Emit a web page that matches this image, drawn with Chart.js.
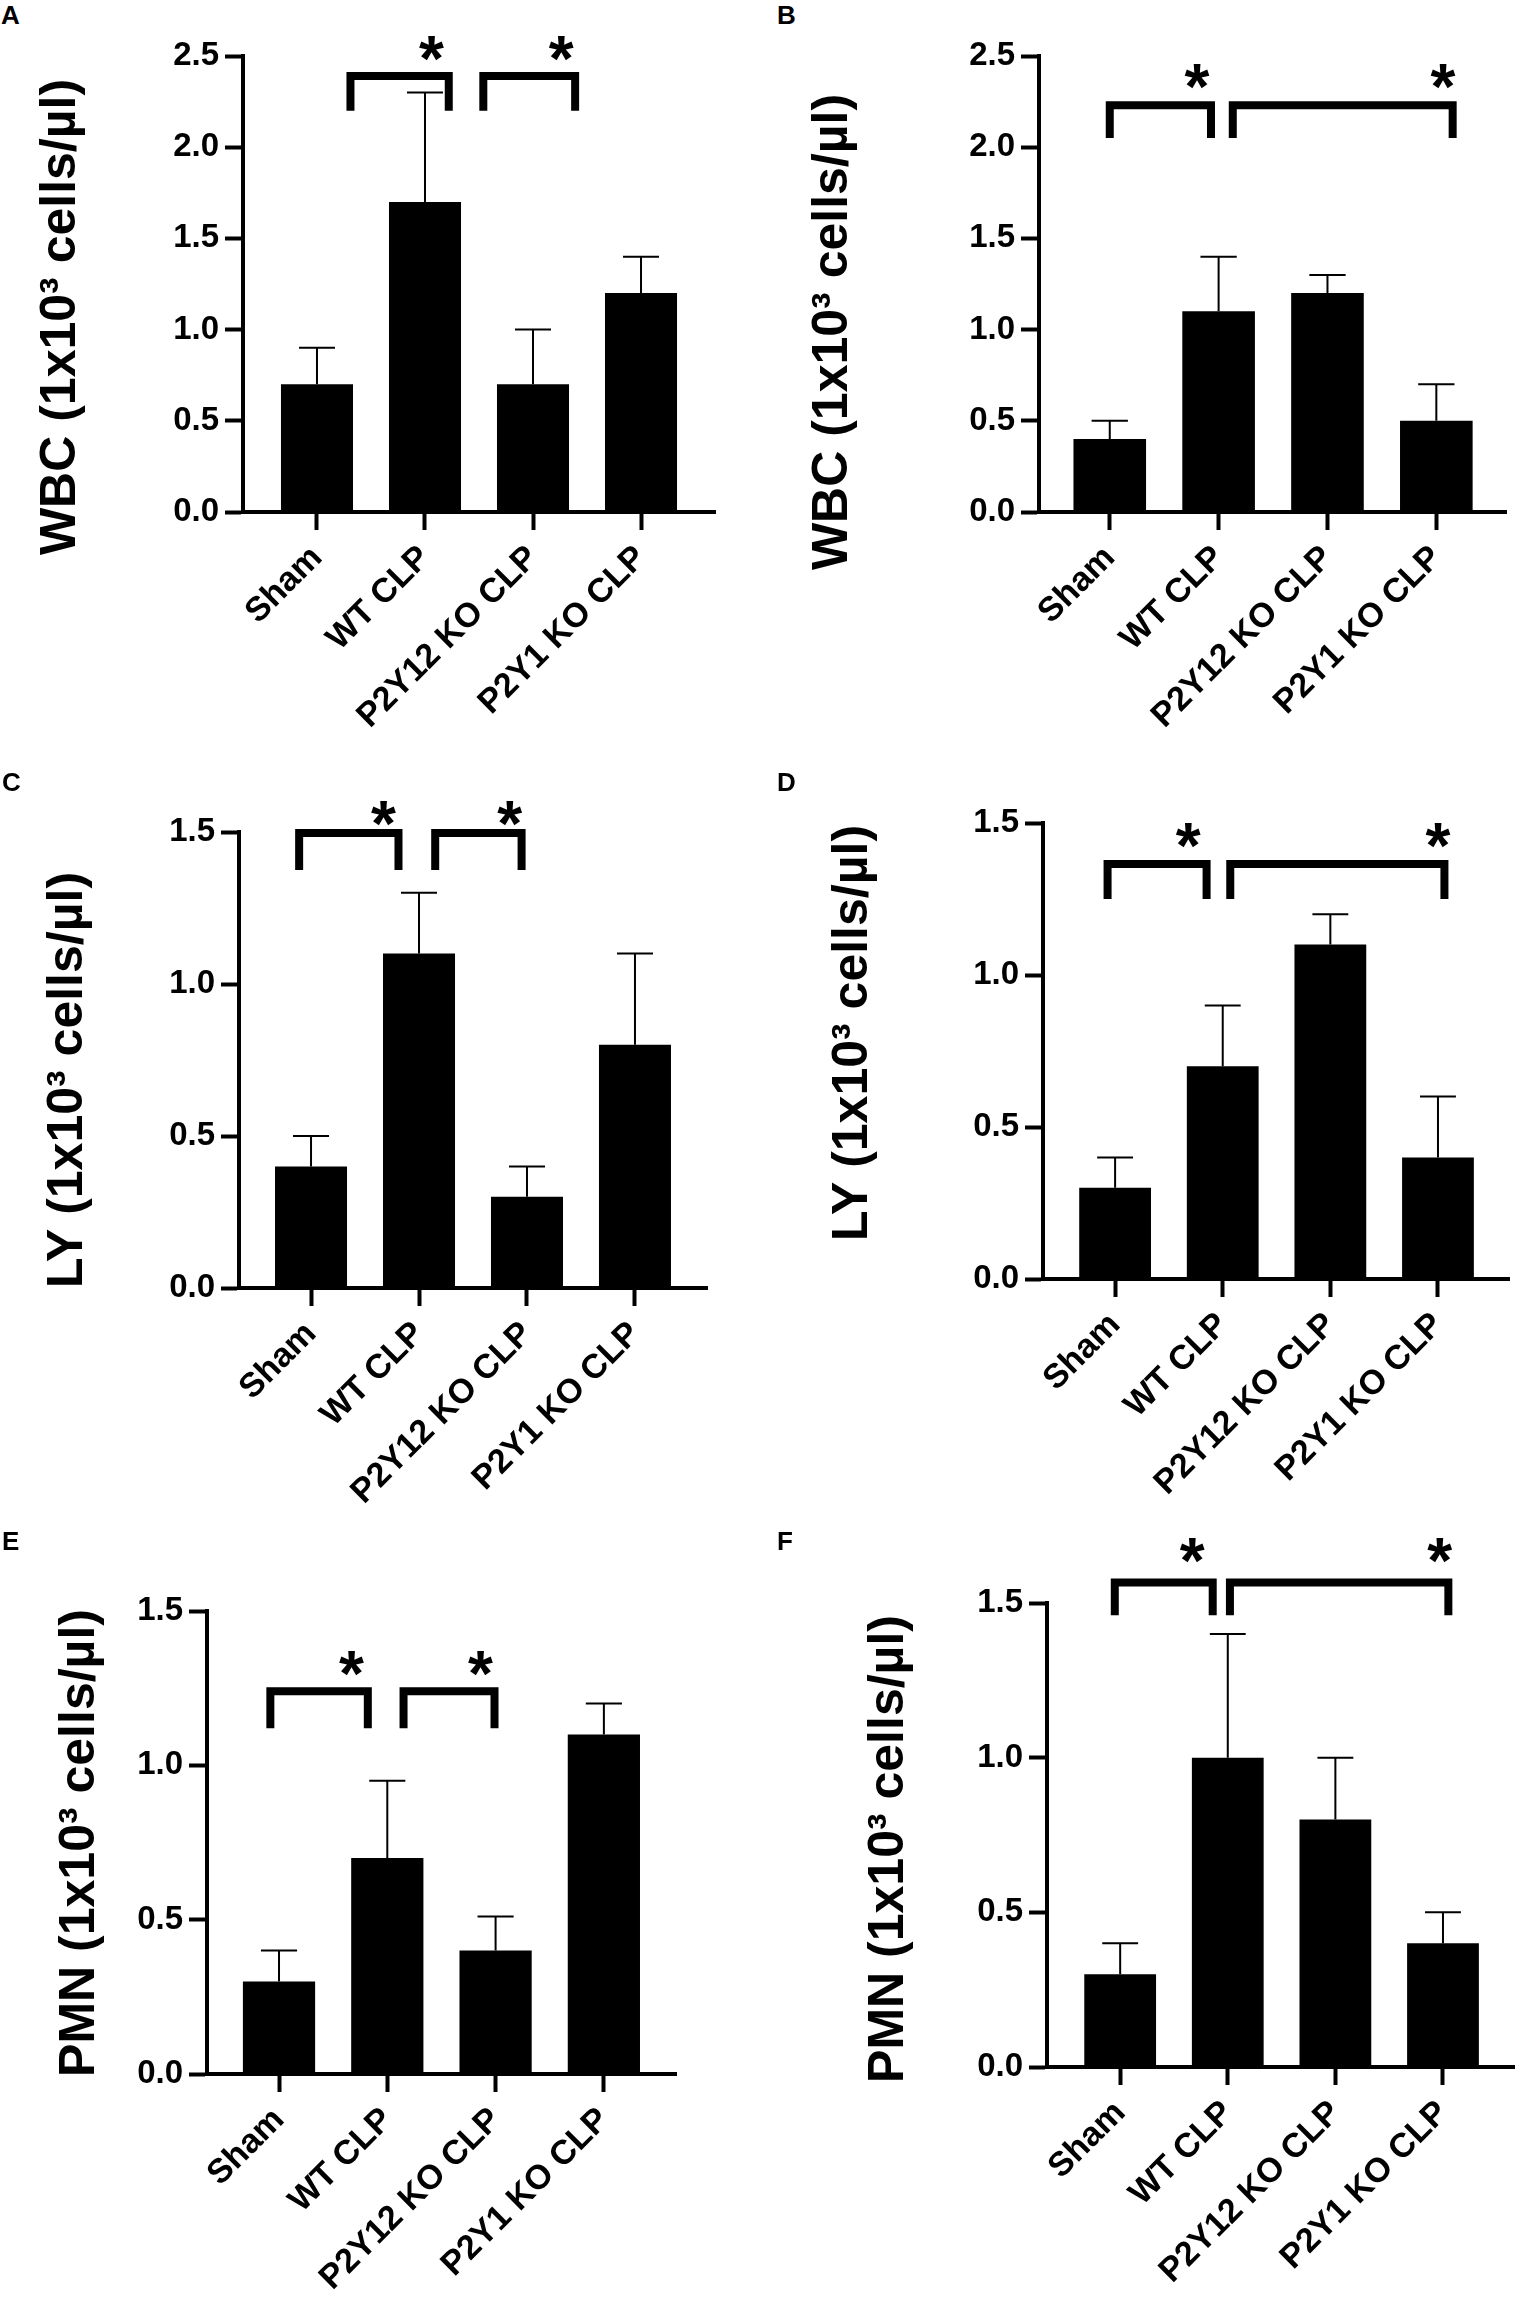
<!DOCTYPE html>
<html>
<head>
<meta charset="utf-8">
<script src="https://cdn.jsdelivr.net/npm/chart.js@4.4.1/dist/chart.umd.min.js"></script>
<style>
  body { margin: 0; background: #fff; }
  #page { position: relative; width: 1521px; height: 2305px; overflow: hidden; }
  #page canvas { position: absolute; }
  .tag { position: absolute; font: bold 26px "Liberation Sans", Arial, sans-serif; line-height: 26px; color: #000; }
</style>
</head>
<body>
<div id="page"></div>
<script>
const categories = ["Sham", "WT CLP", "P2Y12 KO CLP", "P2Y1 KO CLP"];

// means and upper SEM
const wbcLeft = [0.7, 1.7, 0.7, 1.2];
const wbcLeftErr = [0.2, 0.6, 0.3, 0.2];
const wbcRight = [0.4, 1.1, 1.2, 0.5];
const wbcRightErr = [0.1, 0.3, 0.1, 0.2];
const lyLeft = [0.4, 1.1, 0.3, 0.8];
const lyLeftErr = [0.1, 0.2, 0.1, 0.3];
const lyRight = [0.3, 0.7, 1.1, 0.4];
const lyRightErr = [0.1, 0.2, 0.1, 0.2];
const pmnLeft = [0.3, 0.7, 0.4, 1.1];
const pmnLeftErr = [0.1, 0.25, 0.11, 0.1];
const pmnRight = [0.3, 1.0, 0.8, 0.4];
const pmnRightErr = [0.1, 0.4, 0.2, 0.1];

const ticksWbc = [0, 0.5, 1.0, 1.5, 2.0, 2.5];
const ticksSmall = [0, 0.5, 1.0, 1.5];

// significance brackets: [from index, to index, top value, leg value]
const bracketsA = [[0.31, 1.22, 2.39, 2.2], [1.54, 2.39, 2.39, 2.2]];
const starsA = [[1.06, 2.54], [2.26, 2.54]];
const bracketsB = [[0.0, 0.93, 2.23, 2.05], [1.13, 3.15, 2.23, 2.05]];
const starsB = [[0.8, 2.39], [3.06, 2.39]];
const bracketsC = [[-0.11, 0.81, 1.497, 1.375], [1.15, 1.95, 1.497, 1.375]];
const starsC = [[0.67, 1.56], [1.84, 1.56]];
const bracketsD = [[-0.07, 0.85, 1.365, 1.25], [1.07, 3.06, 1.365, 1.25]];
const starsD = [[0.68, 1.46], [3.0, 1.46]];
const bracketsE = [[-0.08, 0.82, 1.24, 1.12], [1.15, 1.99, 1.24, 1.12]];
const starsE = [[0.67, 1.33], [1.86, 1.33]];
const bracketsF = [[-0.05, 0.86, 1.566, 1.46], [1.02, 3.05, 1.566, 1.46]];
const starsF = [[0.67, 1.67], [2.97, 1.67]];

const FONT = '"Liberation Sans", Arial, sans-serif';

const panels = [
  { tag: "A", tagPos: [1, 2], title: "WBC (1x10³ cells/µl)", titlePos: [61, 317],
    box: [0, 0, 760, 770], area: [243, 56, 715, 512], xr: [-0.685, 3.685],
    values: wbcLeft, errors: wbcLeftErr, ticks: ticksWbc, brackets: bracketsA, stars: starsA },
  { tag: "B", tagPos: [777, 2], title: "WBC (1x10³ cells/µl)", titlePos: [833, 332],
    box: [760, 0, 761, 770], area: [1039, 56, 1506, 512], xr: [-0.65, 3.64],
    values: wbcRight, errors: wbcRightErr, ticks: ticksWbc, brackets: bracketsB, stars: starsB },
  { tag: "C", tagPos: [2, 769], title: "LY (1x10³ cells/µl)", titlePos: [68, 1080],
    box: [0, 740, 760, 800], area: [239, 832, 707, 1288], xr: [-0.667, 3.667],
    values: lyLeft, errors: lyLeftErr, ticks: ticksSmall, brackets: bracketsC, stars: starsC },
  { tag: "D", tagPos: [777, 769], title: "LY (1x10³ cells/µl)", titlePos: [853, 1033],
    box: [760, 740, 761, 800], area: [1043, 823, 1509, 1279], xr: [-0.67, 3.66],
    values: lyRight, errors: lyRightErr, ticks: ticksSmall, brackets: bracketsD, stars: starsD },
  { tag: "E", tagPos: [2, 1528], title: "PMN (1x10³ cells/µl)", titlePos: [80, 1843],
    box: [0, 1500, 760, 805], area: [207, 1611, 676, 2074], xr: [-0.665, 3.666],
    values: pmnLeft, errors: pmnLeftErr, ticks: ticksSmall, brackets: bracketsE, stars: starsE },
  { tag: "F", tagPos: [777, 1528], title: "PMN (1x10³ cells/µl)", titlePos: [889, 1849],
    box: [760, 1500, 761, 805], area: [1047, 1603, 1514, 2067], xr: [-0.68, 3.66],
    values: pmnRight, errors: pmnRightErr, ticks: ticksSmall, brackets: bracketsF, stars: starsF }
];

// error bars, brackets, stars and the y title
const extras = {
  id: "extras",
  afterDatasetsDraw(chart, args, opts) {
    const ctx = chart.ctx;
    const xs = chart.scales.x, ys = chart.scales.y;
    const meta = chart.getDatasetMeta(0);
    ctx.save();
    ctx.strokeStyle = "#000";
    ctx.fillStyle = "#000";

    ctx.lineWidth = 2;
    meta.data.forEach((bar, i) => {
      const top = ys.getPixelForValue(opts.values[i] + opts.errors[i]);
      const half = bar.width / 4;
      ctx.beginPath();
      ctx.moveTo(bar.x, bar.y);
      ctx.lineTo(bar.x, top);
      ctx.moveTo(bar.x - half, top);
      ctx.lineTo(bar.x + half, top);
      ctx.stroke();
    });

    ctx.lineWidth = 8;
    ctx.lineJoin = "miter";
    opts.brackets.forEach(([a, b, hi, lo]) => {
      const x1 = xs.getPixelForValue(a), x2 = xs.getPixelForValue(b);
      const yt = ys.getPixelForValue(hi), yl = ys.getPixelForValue(lo);
      ctx.beginPath();
      ctx.moveTo(x1, yl);
      ctx.lineTo(x1, yt);
      ctx.lineTo(x2, yt);
      ctx.lineTo(x2, yl);
      ctx.stroke();
    });

    ctx.font = "bold 64px " + FONT;
    ctx.textAlign = "center";
    ctx.textBaseline = "alphabetic";
    const m = ctx.measureText("*");
    opts.stars.forEach(([sx, sy]) => {
      const px = xs.getPixelForValue(sx), py = ys.getPixelForValue(sy);
      ctx.fillText("*", px, py + (m.actualBoundingBoxAscent - m.actualBoundingBoxDescent) / 2);
    });

    ctx.font = "bold 50px " + FONT;
    ctx.textBaseline = "middle";
    ctx.translate(opts.titlePos[0] - opts.box[0], opts.titlePos[1] - opts.box[1]);
    ctx.rotate(-Math.PI / 2);
    ctx.fillText(opts.title, 0, 0);
    ctx.restore();
  }
};

const page = document.getElementById("page");

panels.forEach(p => {
  const [bx, by, bw, bh] = p.box;
  const [l, t, r, b] = p.area;

  const tag = document.createElement("div");
  tag.className = "tag";
  tag.textContent = p.tag;
  tag.style.left = p.tagPos[0] + "px";
  tag.style.top = p.tagPos[1] + "px";
  page.appendChild(tag);

  const canvas = document.createElement("canvas");
  canvas.width = bw;
  canvas.height = bh;
  canvas.style.left = bx + "px";
  canvas.style.top = by + "px";
  canvas.style.width = bw + "px";
  canvas.style.height = bh + "px";
  page.appendChild(canvas);

  new Chart(canvas, {
    type: "bar",
    data: {
      datasets: [{
        data: p.values.map((v, i) => ({ x: i, y: v })),
        backgroundColor: "#000",
        borderWidth: 0,
        barPercentage: 0.667,
        categoryPercentage: 1.0
      }]
    },
    plugins: [extras],
    options: {
      responsive: false,
      animation: false,
      devicePixelRatio: 1,
      layout: { padding: { left: 0, top: t - by, right: bx + bw - r, bottom: 0 } },
      plugins: {
        legend: { display: false },
        tooltip: { enabled: false },
        extras: { values: p.values, errors: p.errors, brackets: p.brackets, stars: p.stars,
                  title: p.title, titlePos: p.titlePos, box: p.box }
      },
      scales: {
        x: {
          type: "linear",
          min: p.xr[0],
          max: p.xr[1],
          offset: false,
          afterBuildTicks: s => { s.ticks = categories.map((c, i) => ({ value: i })); },
          afterFit: s => { s.height = by + bh - b; },
          border: { display: true, color: "#000", width: 4 },
          grid: { offset: false, drawOnChartArea: false, drawTicks: true, tickLength: 18, tickWidth: 4, tickColor: "#000" },
          ticks: {
            autoSkip: false,
            minRotation: 45,
            maxRotation: 45,
            padding: 8,
            labelOffset: 0,
            color: "#000",
            font: { family: FONT, size: 34, weight: "bold" },
            callback: v => categories[v]
          }
        },
        y: {
          min: 0,
          max: p.ticks[p.ticks.length - 1],
          afterBuildTicks: s => { s.ticks = p.ticks.map(v => ({ value: v })); },
          afterFit: s => { s.width = l - bx; },
          border: { display: true, color: "#000", width: 4 },
          grid: { drawOnChartArea: false, drawTicks: true, tickLength: 18, tickWidth: 4, tickColor: "#000" },
          ticks: {
            padding: 6,
            color: "#000",
            font: { family: FONT, size: 33, weight: "bold" },
            callback: v => v.toFixed(1)
          }
        }
      }
    }
  });
});
</script>
</body>
</html>
